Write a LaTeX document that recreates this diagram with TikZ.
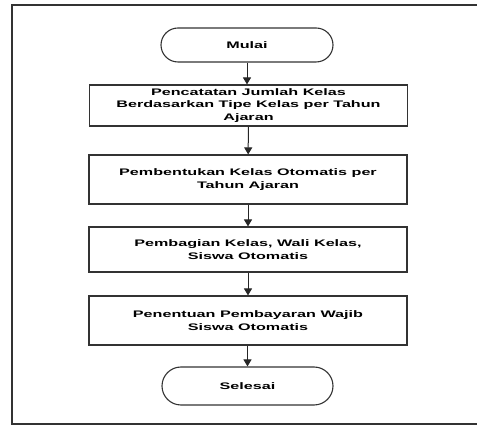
\documentclass[tikz,border=0pt]{standalone}
\usepackage{fontspec}
\setsansfont{Liberation Sans}[FakeStretch=1.7]
\usetikzlibrary{arrows.meta}
\tikzset{
  flowtext/.style={font=\sffamily\bfseries\fontsize{9.5}{12.5}\selectfont, align=center, text=black},
  process/.style={flowtext, draw=black!80, line width=1.1pt, minimum width=318pt, inner sep=0pt},
  terminal/.style={flowtext, draw=black!80, line width=1.1pt, rounded corners=17pt, minimum width=172pt, inner sep=0pt},
  flowarrow/.style={draw=black!85, line width=1pt, -{Triangle[width=8pt,length=7pt]}},
  frameline/.style={draw=black!80, line width=1.8pt}
}
\begin{document}
\begin{tikzpicture}[x=1pt,y=-1pt]
  \useasboundingbox (0,0) rectangle (477,427);
  % outer frame around the flowchart, open on the right
  \draw[frameline] (477,424) -- (12,424) -- (12,5) -- (477,5);

  \node[terminal, minimum height=34pt] (mulai) at (247,45) {Mulai};
  \node[process, minimum height=41pt] (catat) at (248.5,105.5)
    {Pencatatan Jumlah Kelas\\Berdasarkan Tipe Kelas per Tahun\\Ajaran};
  \node[process, minimum height=49pt] (bentuk) at (248,179.5)
    {Pembentukan Kelas Otomatis per\\Tahun Ajaran};
  \node[process, minimum height=45pt] (bagi) at (248,249.5)
    {Pembagian Kelas, Wali Kelas,\\Siswa Otomatis};
  \node[process, minimum height=49pt] (bayar) at (248,320.5)
    {Penentuan Pembayaran Wajib\\Siswa Otomatis};
  \node[terminal, minimum height=38pt, rounded corners=19pt, minimum width=171pt] (selesai) at (247.5,386) {Selesai};

  \draw[flowarrow] (mulai) -- (mulai |- catat.north);
  \draw[flowarrow] (catat) -- (bentuk);
  \draw[flowarrow] (bentuk) -- (bagi);
  \draw[flowarrow] (bagi) -- (bayar);
  \draw[flowarrow] (bayar.south -| selesai) -- (selesai);
\end{tikzpicture}
\end{document}
